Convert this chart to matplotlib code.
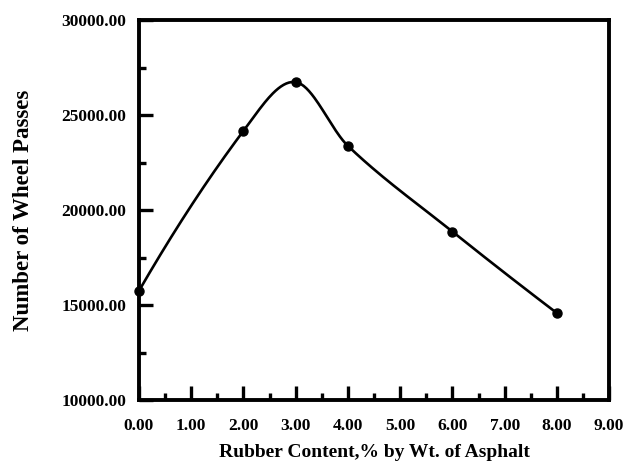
import matplotlib
matplotlib.use("Agg")
import matplotlib.pyplot as plt
import numpy as np
from matplotlib.ticker import MultipleLocator, FormatStrFormatter

# Rubber content (% by weight of asphalt) vs. number of wheel passes
rubber_content = [0.0, 2.0, 3.0, 4.0, 6.0, 8.0]
wheel_passes = [15750, 24170, 26740, 23380, 18870, 14580]


def smooth_curve(x, y, n=40):
    # cubic Hermite through the points, tangents from neighbouring points
    x = np.asarray(x, float)
    y = np.asarray(y, float)
    m = np.empty_like(y)
    m[1:-1] = (y[2:] - y[:-2]) / (x[2:] - x[:-2])
    s0 = (y[1] - y[0]) / (x[1] - x[0])
    s1 = (y[-1] - y[-2]) / (x[-1] - x[-2])
    m[0] = 2 * s0 - m[1]
    m[-1] = 2 * s1 - m[-2]
    xs, ys = [], []
    t = np.linspace(0, 1, n)
    for i in range(len(x) - 1):
        h = x[i + 1] - x[i]
        h00 = 2 * t ** 3 - 3 * t ** 2 + 1
        h10 = t ** 3 - 2 * t ** 2 + t
        h01 = -2 * t ** 3 + 3 * t ** 2
        h11 = t ** 3 - t ** 2
        xs.append(x[i] + t * h)
        ys.append(h00 * y[i] + h10 * h * m[i] + h01 * y[i + 1] + h11 * h * m[i + 1])
    return np.concatenate(xs), np.concatenate(ys)


plt.rcParams["font.family"] = "Liberation Serif"
plt.rcParams["font.weight"] = "bold"

fig = plt.figure(figsize=(6.26, 4.69), dpi=100)
ax = fig.add_axes([0.222, 0.147, 0.751, 0.810])

sx, sy = smooth_curve(rubber_content, wheel_passes)
ax.plot(sx, sy, color="black", linewidth=1.9, clip_on=False, zorder=3)
ax.plot(rubber_content, wheel_passes, "o", color="black", markersize=6.5,
        clip_on=False, zorder=4)

ax.set_xlim(0, 9)
ax.set_ylim(10000, 30000)

ax.xaxis.set_major_locator(MultipleLocator(1))
ax.xaxis.set_minor_locator(MultipleLocator(0.5))
ax.yaxis.set_major_locator(MultipleLocator(5000))
ax.yaxis.set_minor_locator(MultipleLocator(2500))
ax.xaxis.set_major_formatter(FormatStrFormatter("%.2f"))
ax.yaxis.set_major_formatter(FormatStrFormatter("%.2f"))

ax.tick_params(which="both", direction="in", width=2.4, top=False, right=False,
               labelsize=12.5)
ax.tick_params(axis="x", which="major", length=10, pad=13)
ax.tick_params(axis="x", which="minor", length=5)
ax.tick_params(axis="y", which="major", length=10, pad=9)
ax.tick_params(axis="y", which="minor", length=5)

for s in ax.spines.values():
    s.set_linewidth(2.8)

ax.set_xlabel("Rubber Content,% by Wt. of Asphalt", fontsize=14,
              fontweight="bold", labelpad=7)
ax.set_ylabel("Number of Wheel Passes", fontsize=16.5, fontweight="bold",
              labelpad=20)

fig.savefig("out.png", dpi=100)
